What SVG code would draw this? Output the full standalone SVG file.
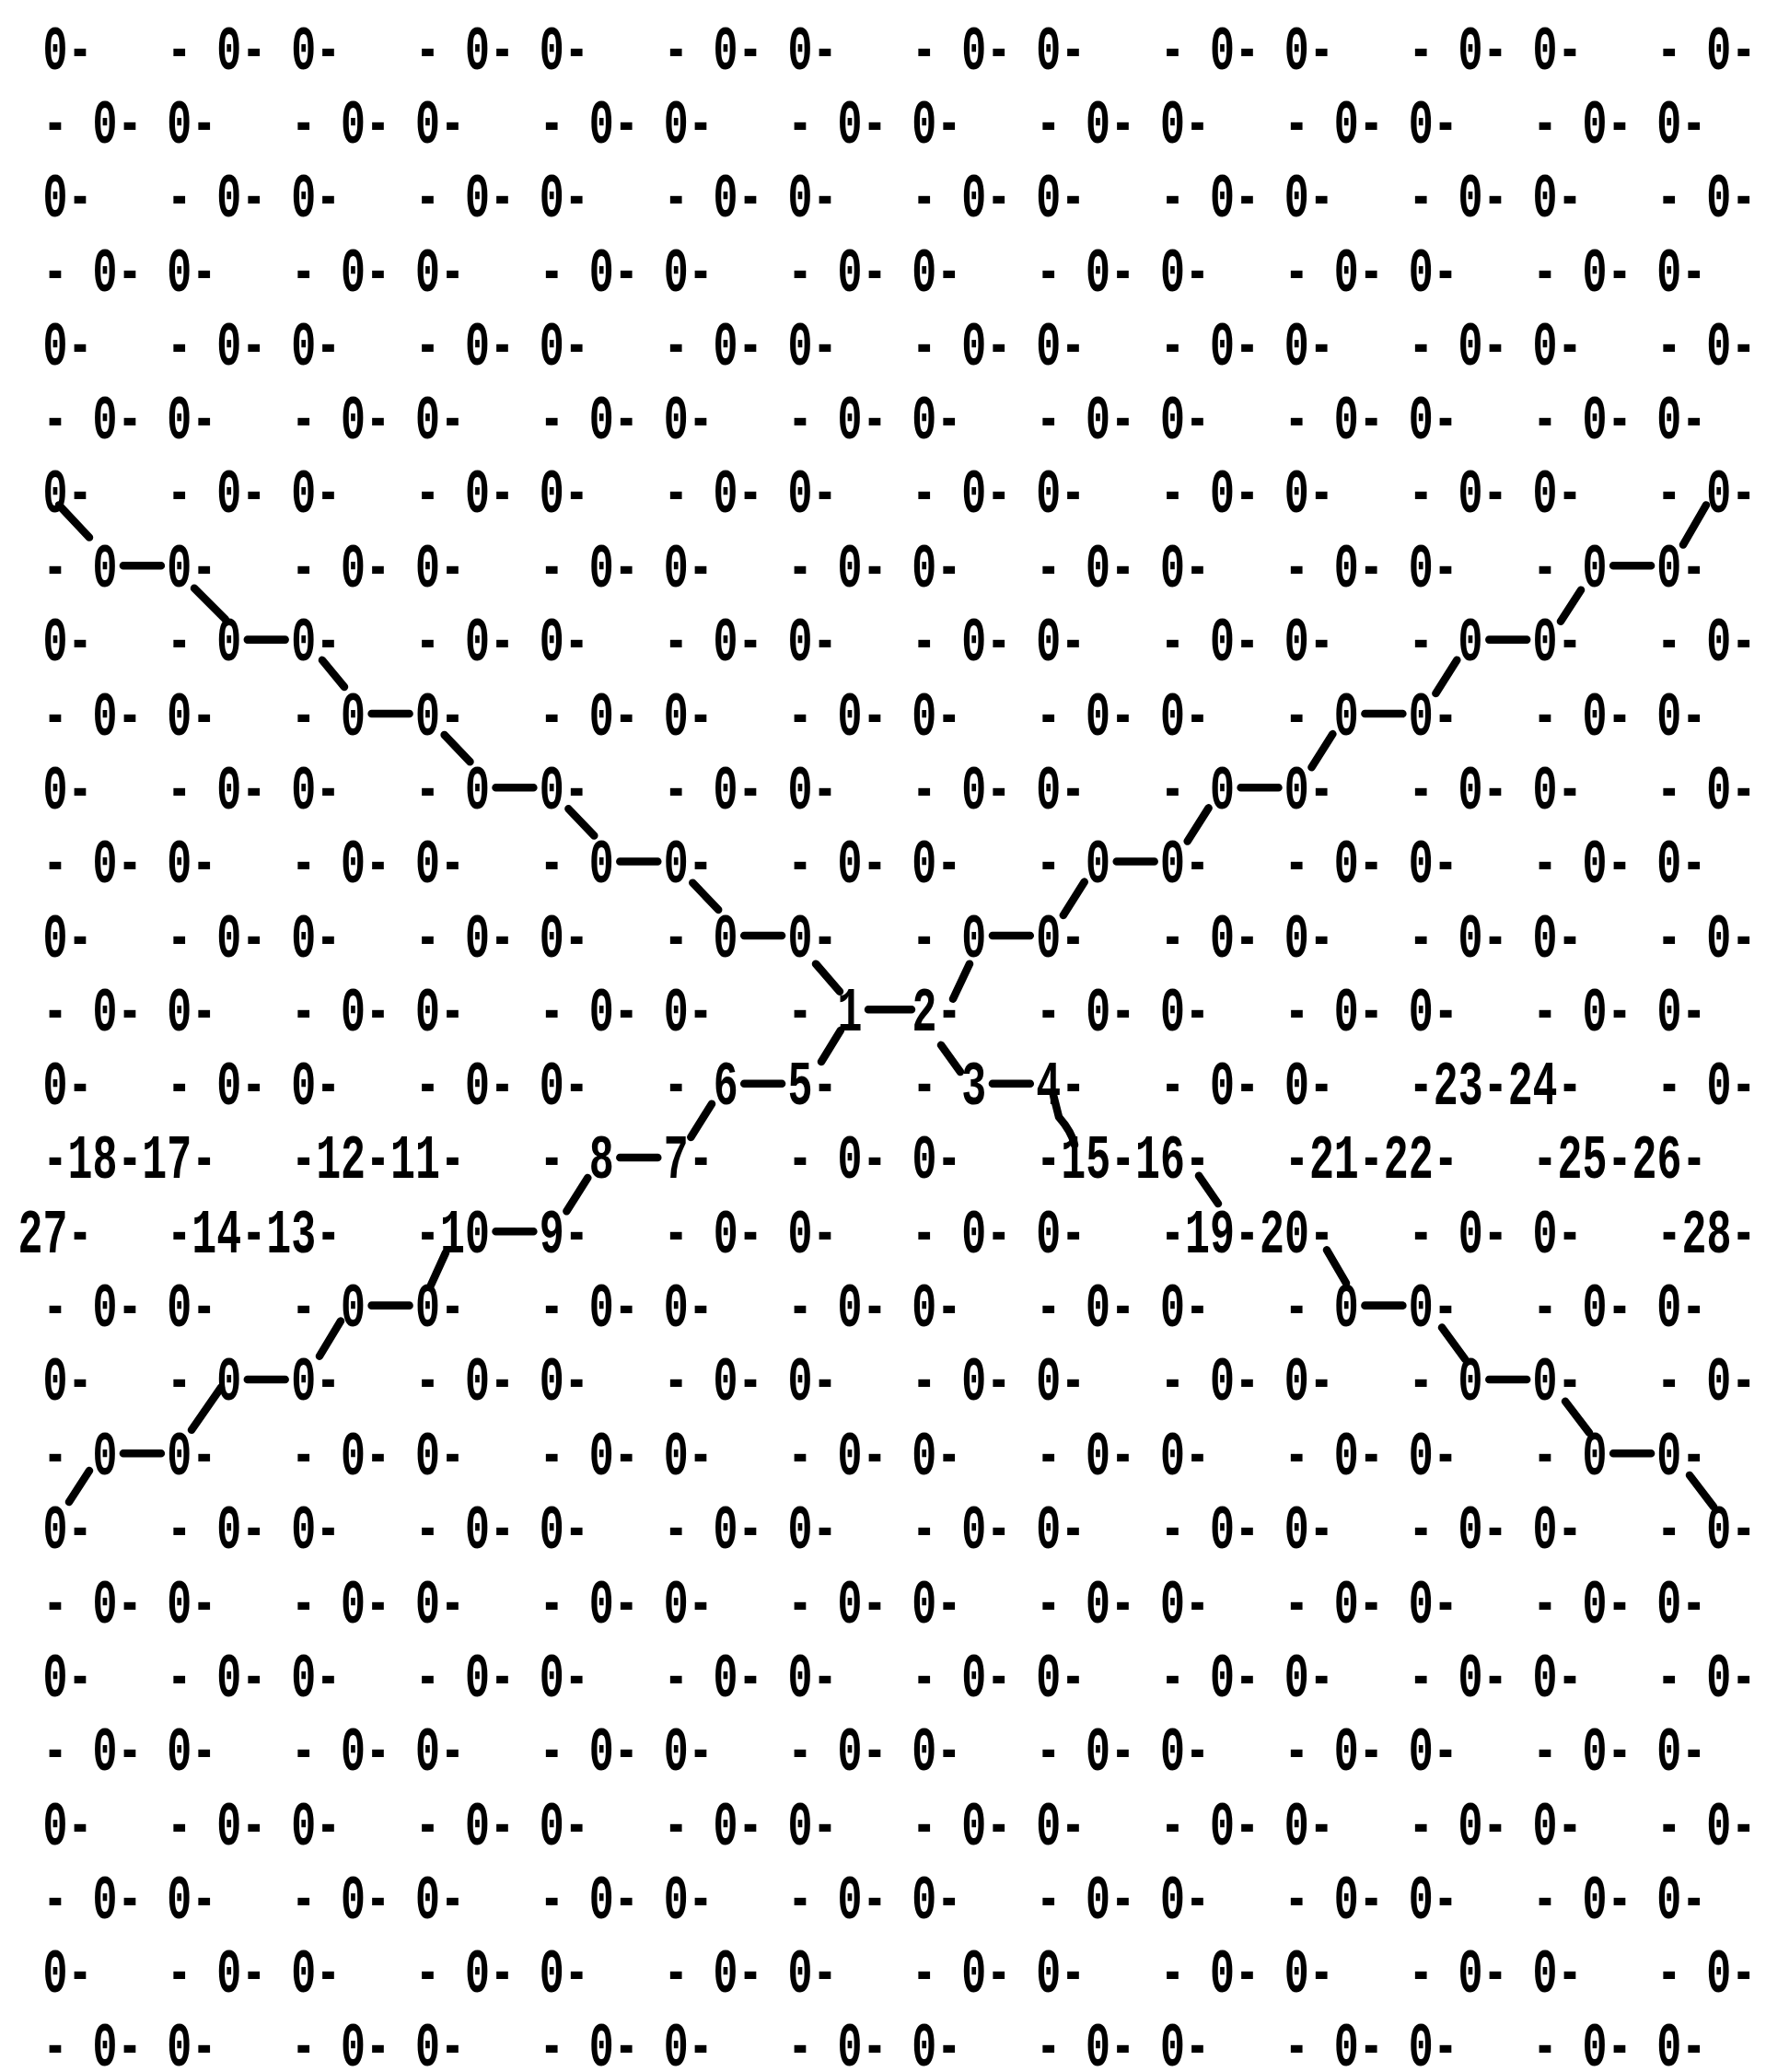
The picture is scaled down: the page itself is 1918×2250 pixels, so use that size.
<svg xmlns="http://www.w3.org/2000/svg" width="1918" height="2250" viewBox="0 0 1918 2250">
<style>
.t{font-family:"Liberation Mono","Cousine","DejaVu Sans Mono",monospace;font-size:68px;font-weight:bold;fill:#000;white-space:pre}
.j{stroke:#000;stroke-width:8.5;stroke-linecap:round;fill:none}
.d{stroke:#000;stroke-width:8.5;stroke-linecap:round;stroke-linejoin:round;fill:none}
</style>
<rect width="1918" height="2250" fill="#fff"/>
<g transform="matrix(1 0 0 1.00237 0 -5.837)">
<g id="lattice" transform="scale(0.661 1)">
<text class="t" xml:space="preserve" x="70.35" y="80.2">0-   - 0- 0-   - 0- 0-   - 0- 0-   - 0- 0-   - 0- 0-   - 0- 0-   - 0-</text>
<text class="t" xml:space="preserve" x="70.35" y="160.3">- 0- 0-   - 0- 0-   - 0- 0-   - 0- 0-   - 0- 0-   - 0- 0-   - 0- 0-</text>
<text class="t" xml:space="preserve" x="70.35" y="240.5">0-   - 0- 0-   - 0- 0-   - 0- 0-   - 0- 0-   - 0- 0-   - 0- 0-   - 0-</text>
<text class="t" xml:space="preserve" x="70.35" y="320.6">- 0- 0-   - 0- 0-   - 0- 0-   - 0- 0-   - 0- 0-   - 0- 0-   - 0- 0-</text>
<text class="t" xml:space="preserve" x="70.35" y="400.8">0-   - 0- 0-   - 0- 0-   - 0- 0-   - 0- 0-   - 0- 0-   - 0- 0-   - 0-</text>
<text class="t" xml:space="preserve" x="70.35" y="480.9">- 0- 0-   - 0- 0-   - 0- 0-   - 0- 0-   - 0- 0-   - 0- 0-   - 0- 0-</text>
<text class="t" xml:space="preserve" x="70.35" y="561.0">0-   - 0- 0-   - 0- 0-   - 0- 0-   - 0- 0-   - 0- 0-   - 0- 0-   - 0-</text>
<text class="t" xml:space="preserve" x="70.35" y="641.2">- 0  0-   - 0- 0-   - 0- 0-   - 0- 0-   - 0- 0-   - 0- 0-   - 0  0-</text>
<text class="t" xml:space="preserve" x="70.35" y="721.3">0-   - 0  0-   - 0- 0-   - 0- 0-   - 0- 0-   - 0- 0-   - 0  0-   - 0-</text>
<text class="t" xml:space="preserve" x="70.35" y="801.5">- 0- 0-   - 0  0-   - 0- 0-   - 0- 0-   - 0- 0-   - 0  0-   - 0- 0-</text>
<text class="t" xml:space="preserve" x="70.35" y="881.6">0-   - 0- 0-   - 0  0-   - 0- 0-   - 0- 0-   - 0  0-   - 0- 0-   - 0-</text>
<text class="t" xml:space="preserve" x="70.35" y="961.7">- 0- 0-   - 0- 0-   - 0  0-   - 0- 0-   - 0  0-   - 0- 0-   - 0- 0-</text>
<text class="t" xml:space="preserve" x="70.35" y="1041.9">0-   - 0- 0-   - 0- 0-   - 0  0-   - 0  0-   - 0- 0-   - 0- 0-   - 0-</text>
<text class="t" xml:space="preserve" x="70.35" y="1122.0">- 0- 0-   - 0- 0-   - 0- 0-   -</text>
<text class="t" xml:space="preserve" x="1539.15" y="1122.0">-   - 0- 0-   - 0- 0-   - 0- 0-</text>
<text class="t" xml:space="preserve" x="70.35" y="1202.2">0-   - 0- 0-   - 0- 0-   -</text>
<text class="t" xml:space="preserve" x="1335.15" y="1202.2">-   -</text>
<text class="t" xml:space="preserve" x="1743.15" y="1202.2">-   - 0- 0-   -</text>
<text class="t" xml:space="preserve" x="2436.75" y="1202.2">-</text>
<text class="t" xml:space="preserve" x="2559.15" y="1202.2">-   - 0-</text>
<text class="t" xml:space="preserve" x="70.35" y="1282.3">-</text>
<text class="t" xml:space="preserve" x="192.75" y="1282.3">-</text>
<text class="t" xml:space="preserve" x="315.15" y="1282.3">-   -</text>
<text class="t" xml:space="preserve" x="600.75" y="1282.3">-</text>
<text class="t" xml:space="preserve" x="723.15" y="1282.3">-   -</text>
<text class="t" xml:space="preserve" x="1131.15" y="1282.3">-   - 0- 0-   -</text>
<text class="t" xml:space="preserve" x="1824.75" y="1282.3">-</text>
<text class="t" xml:space="preserve" x="1947.15" y="1282.3">-   -</text>
<text class="t" xml:space="preserve" x="2232.75" y="1282.3">-</text>
<text class="t" xml:space="preserve" x="2355.15" y="1282.3">-   -</text>
<text class="t" xml:space="preserve" x="2640.75" y="1282.3">-</text>
<text class="t" xml:space="preserve" x="2763.15" y="1282.3">-</text>
<text class="t" xml:space="preserve" x="111.15" y="1362.5">-   -</text>
<text class="t" xml:space="preserve" x="396.75" y="1362.5">-</text>
<text class="t" xml:space="preserve" x="519.15" y="1362.5">-   -</text>
<text class="t" xml:space="preserve" x="927.15" y="1362.5">-   - 0- 0-   - 0- 0-   -</text>
<text class="t" xml:space="preserve" x="2028.75" y="1362.5">-</text>
<text class="t" xml:space="preserve" x="2151.15" y="1362.5">-   - 0- 0-   -</text>
<text class="t" xml:space="preserve" x="2844.75" y="1362.5">-</text>
<text class="t" xml:space="preserve" x="70.35" y="1442.6">- 0- 0-   - 0  0-   - 0- 0-   - 0- 0-   - 0- 0-   - 0  0-   - 0- 0-</text>
<text class="t" xml:space="preserve" x="70.35" y="1522.7">0-   - 0  0-   - 0- 0-   - 0- 0-   - 0- 0-   - 0- 0-   - 0  0-   - 0-</text>
<text class="t" xml:space="preserve" x="70.35" y="1602.9">- 0  0-   - 0- 0-   - 0- 0-   - 0- 0-   - 0- 0-   - 0- 0-   - 0  0-</text>
<text class="t" xml:space="preserve" x="70.35" y="1683.0">0-   - 0- 0-   - 0- 0-   - 0- 0-   - 0- 0-   - 0- 0-   - 0- 0-   - 0-</text>
<text class="t" xml:space="preserve" x="70.35" y="1763.2">- 0- 0-   - 0- 0-   - 0- 0-   - 0- 0-   - 0- 0-   - 0- 0-   - 0- 0-</text>
<text class="t" xml:space="preserve" x="70.35" y="1843.3">0-   - 0- 0-   - 0- 0-   - 0- 0-   - 0- 0-   - 0- 0-   - 0- 0-   - 0-</text>
<text class="t" xml:space="preserve" x="70.35" y="1923.5">- 0- 0-   - 0- 0-   - 0- 0-   - 0- 0-   - 0- 0-   - 0- 0-   - 0- 0-</text>
<text class="t" xml:space="preserve" x="70.35" y="2003.6">0-   - 0- 0-   - 0- 0-   - 0- 0-   - 0- 0-   - 0- 0-   - 0- 0-   - 0-</text>
<text class="t" xml:space="preserve" x="70.35" y="2083.8">- 0- 0-   - 0- 0-   - 0- 0-   - 0- 0-   - 0- 0-   - 0- 0-   - 0- 0-</text>
<text class="t" xml:space="preserve" x="70.35" y="2163.9">0-   - 0- 0-   - 0- 0-   - 0- 0-   - 0- 0-   - 0- 0-   - 0- 0-   - 0-</text>
<text class="t" xml:space="preserve" x="70.35" y="2244.0">- 0- 0-   - 0- 0-   - 0- 0-   - 0- 0-   - 0- 0-   - 0- 0-   - 0- 0-</text>
</g>
<g id="nodes" transform="scale(0.661 1)">
<g id="site-1"><text class="t" x="1375.95" y="1122.0">1</text></g>
<g id="site-2"><text class="t" x="1498.35" y="1122.0">2</text></g>
<g id="site-3"><text class="t" x="1579.95" y="1202.2">3</text></g>
<g id="site-4"><text class="t" x="1702.35" y="1202.2">4</text></g>
<g id="site-5"><text class="t" x="1294.35" y="1202.2">5</text></g>
<g id="site-6"><text class="t" x="1171.95" y="1202.2">6</text></g>
<g id="site-7"><text class="t" x="1090.35" y="1282.3">7</text></g>
<g id="site-8"><text class="t" x="967.95" y="1282.3">8</text></g>
<g id="site-9"><text class="t" x="886.35" y="1362.5">9</text></g>
<g id="site-10"><text class="t" x="723.15" y="1362.5">10</text></g>
<g id="site-11"><text class="t" x="641.55" y="1282.3">11</text></g>
<g id="site-12"><text class="t" x="519.15" y="1282.3">12</text></g>
<g id="site-13"><text class="t" x="437.55" y="1362.5">13</text></g>
<g id="site-14"><text class="t" x="315.15" y="1362.5">14</text></g>
<g id="site-15"><text class="t" x="1743.15" y="1282.3">15</text></g>
<g id="site-16"><text class="t" x="1865.55" y="1282.3">16</text></g>
<g id="site-17"><text class="t" x="233.55" y="1282.3">17</text></g>
<g id="site-18"><text class="t" x="111.15" y="1282.3">18</text></g>
<g id="site-19"><text class="t" x="1947.15" y="1362.5">19</text></g>
<g id="site-20"><text class="t" x="2069.55" y="1362.5">20</text></g>
<g id="site-21"><text class="t" x="2151.15" y="1282.3">21</text></g>
<g id="site-22"><text class="t" x="2273.55" y="1282.3">22</text></g>
<g id="site-23"><text class="t" x="2355.15" y="1202.2">23</text></g>
<g id="site-24"><text class="t" x="2477.55" y="1202.2">24</text></g>
<g id="site-25"><text class="t" x="2559.15" y="1282.3">25</text></g>
<g id="site-26"><text class="t" x="2681.55" y="1282.3">26</text></g>
<g id="site-27"><text class="t" x="29.55" y="1362.5">27</text></g>
<g id="site-28"><text class="t" x="2763.15" y="1362.5">28</text></g>
</g>
<g id="connectors">
<path class="j" d="M133.9 618.7H174.9M1752.1 618.7H1793.1M268.8 698.8H309.7M1617.3 698.8H1658.2M403.6 779H444.6M1482.4 779H1523.4M538.5 859.1H579.4M1347.6 859.1H1388.5M673.3 939.2H714.3M1212.7 939.2H1253.7M808.2 1019.4H849.1M1077.9 1019.4H1118.8M943 1099.5H990M808.2 1179.7H849.1M1077.9 1179.7H1118.8M673.3 1259.8H714.3M538.5 1340H579.4M403.6 1420.1H444.6M1482.4 1420.1H1523.4M268.8 1500.2H309.7M1617.3 1500.2H1658.2M133.9 1580.4H174.9M1752.1 1580.4H1793.1"/>
<path class="d" d="M64 553L97 588M211 643L245 677M350 721L374 750M482.6 802L510.5 831.1M617.4 882.1L645.3 911.2M752.3 962.2L780.2 991.4M886 1050L912 1080"/>
<path class="d" d="M1853 553L1828 596M1717 645L1695 679M1582.3 720.8L1559.4 757M1447.4 801L1424.5 837.1M1312.6 881.1L1289.7 917.2M1177.7 961.2L1154.8 997.4M1053 1050L1035 1088"/>
<path class="d" d="M913 1122L892 1156M1022 1138L1043 1167M773 1201.7L750.3 1237.8M638.3 1281.8L615.4 1318M484 1363L468 1398M370 1437L347 1475M240 1509L208 1555M97 1599L75 1633"/>
<path class="d" d="M1144 1192L1150 1216Q1164 1232 1167 1246M1302 1279.6L1323 1309.8M1441 1360L1462 1396M1566 1444L1591 1478M1700 1524L1726 1558M1835 1604L1861 1638"/>
</g>
</g>
</svg>
